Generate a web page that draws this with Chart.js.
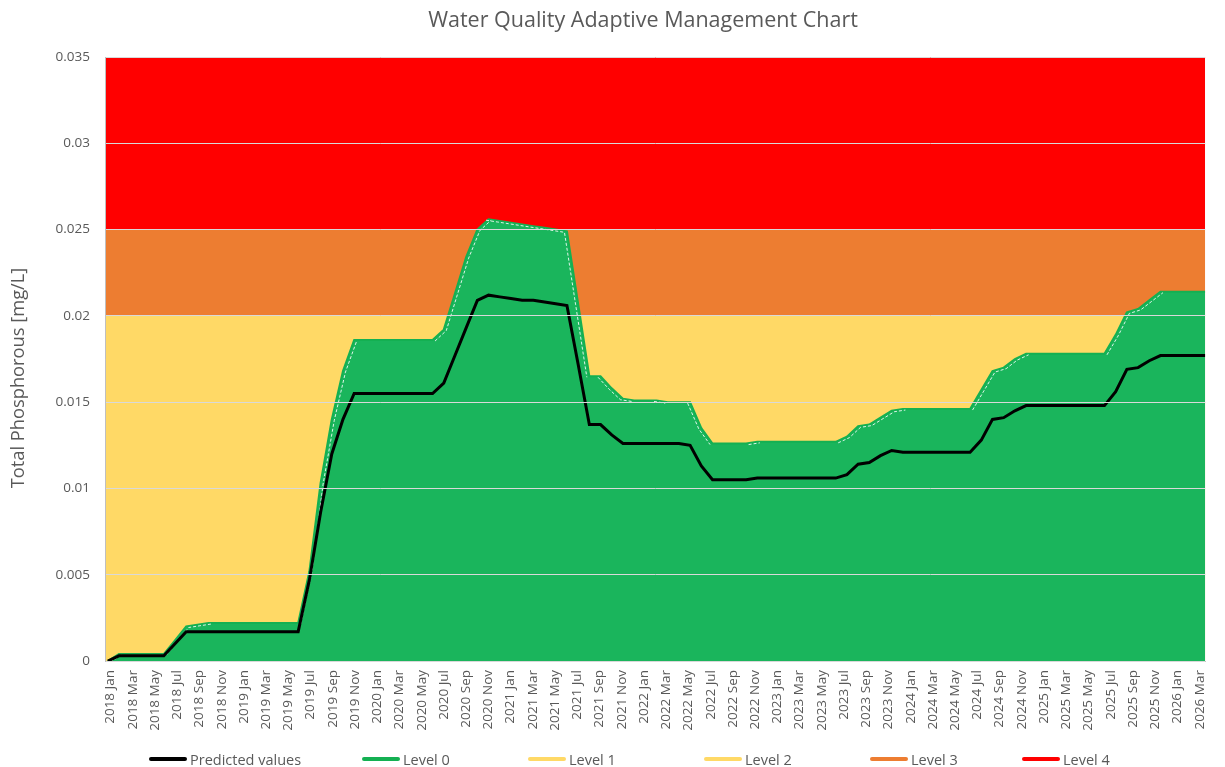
<!DOCTYPE html>
<html>
<head>
<meta charset="utf-8">
<script src="https://cdn.jsdelivr.net/npm/chart.js@4.4.1/dist/chart.umd.min.js"></script>
<style>
html,body{margin:0;padding:0;background:#fff;}
#wrap{position:relative;width:1225px;height:767px;overflow:hidden;}
canvas{display:block;}
#legend{position:absolute;left:0;top:0;width:1225px;height:767px;pointer-events:none;font-family:"Open Sans",sans-serif;font-size:14.5px;color:#595959;}
.li{position:absolute;top:749px;height:20px;display:flex;align-items:center;white-space:nowrap;}
.sw{width:38px;height:4px;margin-right:3px;border-radius:2px;}
</style>
</head>
<body>
<div id="wrap"><canvas id="c" width="1225" height="767"></canvas><div id="legend"></div></div>
<script>
const TITLE = 'Water Quality Adaptive Management Chart';
const Y_TITLE = 'Total Phosphorous [mg/L]';

const months = [
'2018 Jan','2018 Feb','2018 Mar','2018 Apr','2018 May','2018 Jun','2018 Jul','2018 Aug','2018 Sep','2018 Oct','2018 Nov','2018 Dec',
'2019 Jan','2019 Feb','2019 Mar','2019 Apr','2019 May','2019 Jun','2019 Jul','2019 Aug','2019 Sep','2019 Oct','2019 Nov','2019 Dec',
'2020 Jan','2020 Feb','2020 Mar','2020 Apr','2020 May','2020 Jun','2020 Jul','2020 Aug','2020 Sep','2020 Oct','2020 Nov','2020 Dec',
'2021 Jan','2021 Feb','2021 Mar','2021 Apr','2021 May','2021 Jun','2021 Jul','2021 Aug','2021 Sep','2021 Oct','2021 Nov','2021 Dec',
'2022 Jan','2022 Feb','2022 Mar','2022 Apr','2022 May','2022 Jun','2022 Jul','2022 Aug','2022 Sep','2022 Oct','2022 Nov','2022 Dec',
'2023 Jan','2023 Feb','2023 Mar','2023 Apr','2023 May','2023 Jun','2023 Jul','2023 Aug','2023 Sep','2023 Oct','2023 Nov','2023 Dec',
'2024 Jan','2024 Feb','2024 Mar','2024 Apr','2024 May','2024 Jun','2024 Jul','2024 Aug','2024 Sep','2024 Oct','2024 Nov','2024 Dec',
'2025 Jan','2025 Feb','2025 Mar','2025 Apr','2025 May','2025 Jun','2025 Jul','2025 Aug','2025 Sep','2025 Oct','2025 Nov','2025 Dec',
'2026 Jan','2026 Feb','2026 Mar'
];

const predicted = [
0, 0.0003, 0.0003, 0.0003, 0.0003, 0.0003, 0.0010, 0.0017, 0.0017, 0.0017,
0.0017, 0.0017, 0.0017, 0.0017, 0.0017, 0.0017, 0.0017, 0.0017, 0.0047, 0.0086,
0.0120, 0.0140, 0.0155, 0.0155, 0.0155, 0.0155, 0.0155, 0.0155, 0.0155, 0.0155,
0.0161, 0.0177, 0.0193, 0.0209, 0.0212, 0.0211, 0.0210, 0.0209, 0.0209, 0.0208,
0.0207, 0.0206, 0.0172, 0.0137, 0.0137, 0.0131, 0.0126, 0.0126, 0.0126, 0.0126,
0.0126, 0.0126, 0.0125, 0.0113, 0.0105, 0.0105, 0.0105, 0.0105, 0.0106, 0.0106,
0.0106, 0.0106, 0.0106, 0.0106, 0.0106, 0.0106, 0.0108, 0.0114, 0.0115, 0.0119,
0.0122, 0.0121, 0.0121, 0.0121, 0.0121, 0.0121, 0.0121, 0.0121, 0.0128, 0.0140,
0.0141, 0.0145, 0.0148, 0.0148, 0.0148, 0.0148, 0.0148, 0.0148, 0.0148, 0.0148,
0.0156, 0.0169, 0.0170, 0.0174, 0.0177, 0.0177, 0.0177, 0.0177, 0.0177
];

const level0 = [
0, 0.0004, 0.0004, 0.0004, 0.0004, 0.0004, 0.0012, 0.0020, 0.0021, 0.0022,
0.0022, 0.0022, 0.0022, 0.0022, 0.0022, 0.0022, 0.0022, 0.0022, 0.0052, 0.0103,
0.0140, 0.0168, 0.0186, 0.0186, 0.0186, 0.0186, 0.0186, 0.0186, 0.0186, 0.0186,
0.0192, 0.0213, 0.0234, 0.0250, 0.0256, 0.0255, 0.0254, 0.0253, 0.0252, 0.0251,
0.0250, 0.0249, 0.0207, 0.0165, 0.0165, 0.0158, 0.0152, 0.0151, 0.0151, 0.0151,
0.0150, 0.0150, 0.0150, 0.0135, 0.0126, 0.0126, 0.0126, 0.0126, 0.0127, 0.0127,
0.0127, 0.0127, 0.0127, 0.0127, 0.0127, 0.0127, 0.0130, 0.0136, 0.0137, 0.0141,
0.0145, 0.0146, 0.0146, 0.0146, 0.0146, 0.0146, 0.0146, 0.0146, 0.0157, 0.0168,
0.0170, 0.0175, 0.0178, 0.0178, 0.0178, 0.0178, 0.0178, 0.0178, 0.0178, 0.0178,
0.0189, 0.0202, 0.0204, 0.0209, 0.0214, 0.0214, 0.0214, 0.0214, 0.0214
];

// upper limits of the management levels (mg/L)
const levelNames = ['Level 1', 'Level 2', 'Level 3', 'Level 4'];
const levelLimits = [0.015, 0.020, 0.025, 0.035];
const levelColors = ['#FFD966', '#FFD966', '#ED7D31', '#FF0000'];

const yTickValues = [0, 0.005, 0.01, 0.015, 0.02, 0.025, 0.03, 0.035];

const GREEN = '#1AB55C';
const GREEN_LINE = '#14B052';
const HILITE = 'rgba(255,255,255,0.85)';
const NONE = 'rgba(0,0,0,0)';
const legendX = [149, 362, 528, 704, 870, 1022];

const asPoints = arr => arr.map((v, i) => ({ x: i, y: v }));

const datasets = [
  { label: 'Predicted values', data: asPoints(predicted), xAxisID: 'xd', borderColor: '#000000', backgroundColor: '#000000',
    borderWidth: 3, pointRadius: 0, fill: false, order: 0, tension: 0, legendColor: '#000000', inLegend: true },
  { label: 'Level 0', data: asPoints(level0), xAxisID: 'xd', borderColor: GREEN_LINE, backgroundColor: GREEN,
    borderWidth: 2, pointRadius: 0, fill: 'origin', order: 1, tension: 0, legendColor: GREEN_LINE, inLegend: true }
];
levelNames.forEach((name, k) => {
  datasets.push({
    label: name, data: months.map(() => levelLimits[k]), xAxisID: 'x',
    borderColor: levelColors[k], backgroundColor: levelColors[k], legendColor: levelColors[k], inLegend: true,
    borderWidth: 0, pointRadius: 0, fill: 'origin', order: 10 + k, tension: 0
  });
});
// thin dashed highlight just inside the Level 0 edge (on rising / falling stretches)
datasets.push({
  label: 'Level 0 edge up', data: asPoints(level0), xAxisID: 'xd', fill: false, pointRadius: 0,
  borderWidth: 1, borderDash: [3, 2], order: 0.5, shift: [2.5, 1], borderColor: NONE,
  segment: { borderColor: c => c.p1.parsed.y > c.p0.parsed.y ? HILITE : NONE }
});
datasets.push({
  label: 'Level 0 edge down', data: asPoints(level0), xAxisID: 'xd', fill: false, pointRadius: 0,
  borderWidth: 1, borderDash: [3, 2], order: 0.5, shift: [-2.5, 1], borderColor: NONE,
  segment: { borderColor: c => c.p1.parsed.y < c.p0.parsed.y ? HILITE : NONE }
});

const shiftPlugin = {
  id: 'shiftPlugin',
  beforeDatasetDraw(chart, args) {
    const ds = chart.data.datasets[args.index];
    if (ds.shift) { chart.ctx.save(); chart.ctx.translate(ds.shift[0], ds.shift[1]); }
  },
  afterDatasetDraw(chart, args) {
    const ds = chart.data.datasets[args.index];
    if (ds.shift) { chart.ctx.restore(); }
  }
};

const customText = {
  id: 'customText',
  afterDraw(chart) {
    const ctx = chart.ctx;
    ctx.save();
    ctx.fillStyle = '#595959';
    ctx.textAlign = 'center';
    ctx.textBaseline = 'middle';
    ctx.font = '21.5px "Open Sans"';
    ctx.fillText(TITLE, 643, 21);
    ctx.translate(19, 378);
    ctx.rotate(-Math.PI / 2);
    ctx.font = '18.3px "Open Sans"';
    ctx.fillText(Y_TITLE, 0, 0);
    ctx.restore();
  }
};

const htmlLegend = {
  id: 'htmlLegend',
  afterUpdate(chart) {
    const el = document.getElementById('legend');
    el.innerHTML = '';
    chart.data.datasets.filter(ds => ds.inLegend).forEach((ds, i) => {
      const item = document.createElement('div');
      item.className = 'li';
      item.style.left = legendX[i] + 'px';
      const sw = document.createElement('span');
      sw.className = 'sw';
      sw.style.background = ds.legendColor;
      const tx = document.createElement('span');
      tx.textContent = ds.label;
      item.appendChild(sw);
      item.appendChild(tx);
      el.appendChild(item);
    });
  }
};

new Chart(document.getElementById('c'), {
  type: 'line',
  data: { labels: months, datasets: datasets },
  options: {
    responsive: false,
    animation: false,
    devicePixelRatio: 1,
    layout: { padding: { top: 57, left: 0, right: 0, bottom: 0 }, autoPadding: false },
    plugins: { legend: { display: false }, title: { display: false }, tooltip: { enabled: false } },
    scales: {
      x: { type: 'category', display: false, offset: false },
      xd: { type: 'linear', display: false, min: -0.25, max: 98 },
      xl: {
        type: 'category', position: 'bottom', offset: true,
        grid: { display: false, drawTicks: false },
        border: { display: true, color: '#BFBFBF', width: 1 },
        ticks: {
          autoSkip: false, maxRotation: 90, minRotation: 90, padding: 9,
          color: '#595959', font: { family: 'Open Sans', size: 13.5 },
          callback: function (v, i) { return i % 2 === 0 ? months[i] : ''; }
        },
        afterFit(scale) { scale.height = 106; }
      },
      y: {
        min: 0, max: 0.035,
        afterBuildTicks(scale) { scale.ticks = yTickValues.map(v => ({ value: v })); },
        grid: { color: '#D9D9D9', lineWidth: 1, drawTicks: false, z: 1 },
        border: { display: true, color: '#BFBFBF', width: 1, z: 2 },
        ticks: {
          padding: 15, color: '#595959', font: { family: 'Open Sans', size: 13.5 },
          callback: v => String(Number(v.toFixed(4)))
        },
        afterFit(scale) { scale.width = 105; }
      }
    }
  },
  plugins: [shiftPlugin, customText, htmlLegend]
});
</script>
</body>
</html>
